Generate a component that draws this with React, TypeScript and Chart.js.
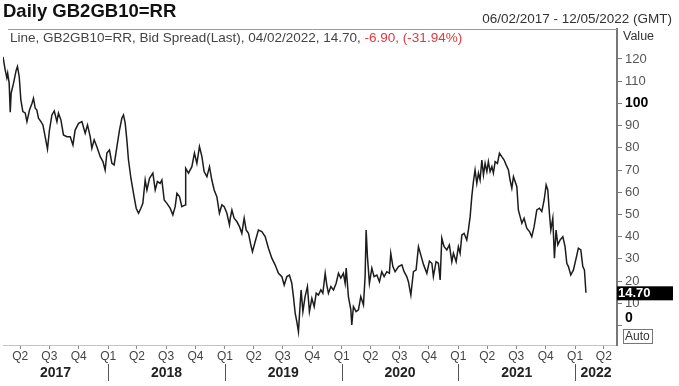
import React, { useEffect, useRef } from 'react';
import { Chart, registerables } from 'chart.js';

Chart.register(...registerables);

const FONT = '"Liberation Sans", Arial, Helvetica, sans-serif';

const titleText = 'Daily GB2GB10=RR';
const rangeText = '06/02/2017 - 12/05/2022 (GMT)';
const legendMain = 'Line, GB2GB10=RR, Bid Spread(Last), 04/02/2022, 14.70, ';
const legendChange = '-6.90, (-31.94%)';
const lastValue = 14.7;
const lastLabel = '14.70';
const axisTitle = 'Value';
const autoText = 'Auto';

const xMin = 2017.099; // 06/02/2017
const xMax = 2022.359; // 12/05/2022
const yMin = -8.8;
const yMax = 133.5;
const yTicks = [0, 10, 20, 30, 40, 50, 60, 70, 80, 90, 100, 110, 120];
const boldTicks = [0, 100];
const years = [2017, 2018, 2019, 2020, 2021, 2022];
const quarterNames = ['Q1', 'Q2', 'Q3', 'Q4'];
const quarterStartDays = [0, 90, 181, 273];

// dates as decimal years
const dates = [
  2017.099, 2017.118, 2017.132, 2017.139, 2017.152, 2017.161, 2017.169, 2017.189, 2017.212, 2017.223,
  2017.238, 2017.252, 2017.269, 2017.289, 2017.304, 2017.326, 2017.347, 2017.360, 2017.375, 2017.389,
  2017.403, 2017.424, 2017.441, 2017.460, 2017.480, 2017.497, 2017.518, 2017.538, 2017.561, 2017.574,
  2017.595, 2017.617, 2017.646, 2017.675, 2017.698, 2017.717, 2017.746, 2017.775, 2017.803, 2017.823,
  2017.846, 2017.860, 2017.880, 2017.903, 2017.932, 2017.955, 2017.974, 2017.989, 2018.011, 2018.032,
  2018.051, 2018.075, 2018.097, 2018.117, 2018.131, 2018.146, 2018.160, 2018.174, 2018.195, 2018.217,
  2018.240, 2018.260, 2018.280, 2018.297, 2018.317, 2018.332, 2018.354, 2018.383, 2018.403, 2018.422,
  2018.445, 2018.460, 2018.480, 2018.503, 2018.531, 2018.554, 2018.574, 2018.589, 2018.611, 2018.631,
  2018.660, 2018.664, 2018.688, 2018.717, 2018.739, 2018.760, 2018.782, 2018.803, 2018.822, 2018.846,
  2018.868, 2018.888, 2018.908, 2018.931, 2018.953, 2018.974, 2018.994, 2019.017, 2019.039, 2019.045,
  2019.060, 2019.079, 2019.102, 2019.125, 2019.145, 2019.165, 2019.182, 2019.202, 2019.222, 2019.236,
  2019.259, 2019.287, 2019.316, 2019.345, 2019.373, 2019.402, 2019.430, 2019.459, 2019.488, 2019.508,
  2019.531, 2019.553, 2019.573, 2019.587, 2019.602, 2019.616, 2019.630, 2019.645, 2019.653, 2019.668,
  2019.687, 2019.707, 2019.724, 2019.745, 2019.765, 2019.782, 2019.801, 2019.822, 2019.839, 2019.859,
  2019.873, 2019.887, 2019.908, 2019.930, 2019.953, 2019.973, 2019.993, 2020.015, 2020.030, 2020.039,
  2020.058, 2020.079, 2020.087, 2020.101, 2020.124, 2020.144, 2020.164, 2020.187, 2020.201, 2020.210,
  2020.221, 2020.238, 2020.259, 2020.278, 2020.302, 2020.324, 2020.344, 2020.364, 2020.387, 2020.409,
  2020.421, 2020.439, 2020.458, 2020.487, 2020.516, 2020.535, 2020.558, 2020.572, 2020.593, 2020.615,
  2020.638, 2020.658, 2020.678, 2020.701, 2020.730, 2020.752, 2020.773, 2020.786, 2020.809, 2020.829,
  2020.844, 2020.858, 2020.878, 2020.901, 2020.923, 2020.944, 2020.958, 2020.981, 2021.000, 2021.015,
  2021.030, 2021.049, 2021.072, 2021.086, 2021.101, 2021.115, 2021.129, 2021.143, 2021.158, 2021.172,
  2021.186, 2021.201, 2021.215, 2021.229, 2021.244, 2021.257, 2021.272, 2021.287, 2021.300, 2021.315,
  2021.335, 2021.352, 2021.372, 2021.392, 2021.409, 2021.429, 2021.443, 2021.458, 2021.472, 2021.486,
  2021.501, 2021.514, 2021.529, 2021.544, 2021.563, 2021.586, 2021.609, 2021.629, 2021.649, 2021.672,
  2021.694, 2021.715, 2021.735, 2021.752, 2021.766, 2021.780, 2021.792, 2021.809, 2021.823, 2021.837,
  2021.852, 2021.872, 2021.895, 2021.914, 2021.929, 2021.943, 2021.963, 2021.986, 2022.009, 2022.028,
  2022.049, 2022.066, 2022.080, 2022.093,
];

const spreadValues = [
  121, 115, 111.5, 113.6, 109, 96, 104.7, 109, 115, 116.6,
  112, 101.6, 96.3, 95.7, 91.8, 97, 100, 102.3, 97.8, 97,
  93.3, 91.8, 90.3, 85, 79.4, 88, 94.8, 96.6, 91.8, 95.6,
  92.6, 85.8, 85, 85, 81.3, 88, 91, 91.8, 86.6, 90.3,
  85, 79.8, 83.6, 80.5, 76, 73.8, 70, 77.6, 79, 73,
  72.3, 80.5, 88, 93.3, 94.8, 91, 83.6, 74.5, 66.3, 59.5,
  52.8, 50.5, 52.8, 55, 65.5, 61, 66.3, 68.6, 61, 64.8,
  64, 65.5, 56.5, 55, 52.8, 49.8, 53.5, 59.5, 58, 53.5,
  54.3, 70.8, 68.6, 71.5, 77.6, 73, 80.5, 76, 69.3, 67,
  71.5, 65.5, 61, 58, 50.5, 54.3, 53.5, 50.5, 45.3, 48,
  52, 48.3, 46.8, 44.5, 41.5, 48.3, 43, 41.5, 36.3, 33.2,
  37.7, 43, 42.3, 40, 34.8, 30.3, 27.3, 23.5, 22, 18.2,
  22, 22.7, 19, 13, 5.5, 1.7, -2.8, 10, 16, 6.2,
  13, 17.5, 6.2, 12.2, 8.5, 14.5, 13.7, 16, 14.5, 23.5,
  18.2, 14.5, 17.5, 16, 19, 23.5, 21.3, 23.5, 19, 25.8,
  13, 7, 0.2, 8.5, 6.2, 7, 13, 9.2, 22, 43,
  31, 19, 25.8, 22, 22.7, 19.7, 24.2, 22, 24.2, 23.5,
  32.5, 26.5, 24.2, 26.5, 27.3, 24.2, 22, 19.7, 13.7, 24.2,
  25, 35.5, 31.8, 27.5, 23.5, 29, 28, 22, 28.7, 28,
  20.5, 39.3, 35.5, 34, 36.3, 28.7, 32.5, 28.7, 35.5, 32.5,
  40.8, 41.5, 38.5, 43, 49, 58, 64.8, 70, 64, 68.6,
  65.5, 74.5, 67.8, 73, 69.3, 73.8, 69.3, 71.5, 68.6, 73.8,
  73, 77.6, 76, 74.5, 72.3, 70, 65.5, 61.8, 67, 64.8,
  62.5, 52, 49, 46, 48.3, 43.8, 42.3, 40, 44.5, 52,
  52.8, 51.3, 56.5, 63.3, 61, 50.5, 43, 48.3, 30.3, 43,
  36.3, 38.5, 40, 35.5, 28, 26.5, 22.7, 25, 30.3, 34.8,
  34, 26.5, 25, 14.7,
];

function buildQuarterTicks() {
  const ticks: { value: number; label: string }[] = [];
  years.forEach((y) => {
    quarterStartDays.forEach((d, q) => {
      const v = y + d / 365;
      if (v >= xMin && v <= xMax) ticks.push({ value: v, label: quarterNames[q] });
    });
  });
  return ticks;
}

const overlayPlugin = {
  id: 'overlay',
  afterDraw(chart: any) {
    const { ctx, chartArea, scales } = chart;
    const xs = scales.x;
    const ys = scales.y;
    ctx.save();
    ctx.textBaseline = 'middle';

    // title
    ctx.fillStyle = '#111';
    ctx.textAlign = 'left';
    ctx.font = `bold 18.5px ${FONT}`;
    ctx.fillText(titleText, 3, 12);

    // date range
    ctx.fillStyle = '#333';
    ctx.textAlign = 'right';
    ctx.font = `13.5px ${FONT}`;
    ctx.fillText(rangeText, 672, 19);

    // top frame line
    ctx.strokeStyle = '#9a9a9a';
    ctx.lineWidth = 1;
    ctx.beginPath();
    ctx.moveTo(8, chartArea.top + 0.5);
    ctx.lineTo(chartArea.right, chartArea.top + 0.5);
    ctx.stroke();

    // legend line
    ctx.textAlign = 'left';
    ctx.font = `13.5px ${FONT}`;
    ctx.fillStyle = '#444';
    ctx.fillText(legendMain, 10, 38);
    const w = ctx.measureText(legendMain).width;
    ctx.fillStyle = '#e0393e';
    ctx.fillText(legendChange, 10 + w, 38);

    // axis title
    ctx.fillStyle = '#333';
    ctx.font = `12.5px ${FONT}`;
    ctx.fillText(axisTitle, chartArea.right + 6, 37);

    // zero label (drawn slightly above its tick, as in the source)
    const y0 = ys.getPixelForValue(0);
    ctx.fillStyle = '#000';
    ctx.font = `bold 14px ${FONT}`;
    ctx.fillText('0', chartArea.right + 8, y0 - 7);

    // last value box
    const yl = ys.getPixelForValue(lastValue);
    ctx.fillStyle = '#000';
    ctx.fillRect(chartArea.right, yl - 6.5, 56, 14);
    ctx.fillStyle = '#fff';
    ctx.font = `bold 13px ${FONT}`;
    ctx.fillText(lastLabel, chartArea.right + 1, yl + 0.5);

    // Auto box
    ctx.strokeStyle = '#777';
    ctx.strokeRect(chartArea.right + 6.5, chartArea.bottom - 15.5, 29, 14);
    ctx.fillStyle = '#333';
    ctx.font = `12px ${FONT}`;
    ctx.fillText(autoText, chartArea.right + 8, chartArea.bottom - 8);

    // year row
    ctx.font = `bold 14px ${FONT}`;
    ctx.fillStyle = '#222';
    ctx.textAlign = 'center';
    years.forEach((y) => {
      const a = Math.max(xMin, y);
      const b = Math.min(xMax, y + 1);
      const xa = xs.getPixelForValue(a);
      const xb = xs.getPixelForValue(b);
      ctx.fillText(String(y), (xa + xb) / 2, 373);
    });
    ctx.strokeStyle = '#555';
    ctx.lineWidth = 1;
    years.forEach((y) => {
      if (y <= xMin) return;
      const xp = Math.round(xs.getPixelForValue(y)) + 0.5;
      ctx.beginPath();
      ctx.moveTo(xp, 364);
      ctx.lineTo(xp, 381);
      ctx.stroke();
    });

    ctx.restore();
  },
};

export default function App() {
  const canvasRef = useRef<HTMLCanvasElement | null>(null);

  useEffect(() => {
    const canvas = canvasRef.current;
    if (!canvas) return;
    const qTicks = buildQuarterTicks();
    const points = dates.map((d, i) => ({ x: d, y: spreadValues[i] }));
    const chart = new Chart(canvas, {
      type: 'line',
      data: {
        datasets: [
          {
            data: points,
            borderColor: '#1c1c1c',
            borderWidth: 1.5,
            pointRadius: 0,
            tension: 0,
            fill: false,
          },
        ],
      },
      options: {
        animation: false,
        responsive: false,
        devicePixelRatio: 1,
        parsing: false as any,
        layout: { padding: { top: 29, left: 3, right: 0, bottom: 0 } },
        plugins: { legend: { display: false }, tooltip: { enabled: false }, title: { display: false } },
        scales: {
          x: {
            type: 'linear',
            min: xMin,
            max: xMax,
            position: 'bottom',
            afterBuildTicks: (s: any) => {
              s.ticks = qTicks.map((t) => ({ value: t.value }));
            },
            afterFit: (s: any) => {
              s.height = 41;
            },
            ticks: {
              autoSkip: false,
              maxRotation: 0,
              padding: 0,
              color: '#444',
              font: { family: FONT, size: 12 },
              callback: (_v: any, i: number) => (qTicks[i] ? qTicks[i].label : ''),
            },
            grid: { display: true, drawOnChartArea: false, drawTicks: true, tickLength: 4, color: '#888' },
            border: { display: true, color: '#c4c4c4' },
          },
          y: {
            type: 'linear',
            position: 'right',
            min: yMin,
            max: yMax,
            afterBuildTicks: (s: any) => {
              s.ticks = yTicks.map((v) => ({ value: v }));
            },
            afterFit: (s: any) => {
              s.width = 62;
            },
            ticks: {
              padding: 3,
              color: (c: any) => (c.tick && boldTicks.includes(c.tick.value) ? '#000' : '#555'),
              font: (c: any) => ({
                family: FONT,
                size: c.tick && boldTicks.includes(c.tick.value) ? 14 : 13,
                weight: c.tick && boldTicks.includes(c.tick.value) ? 'bold' : 'normal',
              }),
              callback: (v: any) => (v === 0 ? '' : String(v)),
            },
            grid: { display: true, drawOnChartArea: false, drawTicks: true, tickLength: 5, color: '#777' },
            border: { display: true, color: '#777', width: 2 },
          },
        },
      },
      plugins: [overlayPlugin],
    });
    return () => chart.destroy();
  }, []);

  return (
    <div style={{ position: 'absolute', left: 0, top: 0, width: 679, height: 386, background: '#fff' }}>
      <canvas ref={canvasRef} width={679} height={386} style={{ display: 'block' }} />
    </div>
  );
}
